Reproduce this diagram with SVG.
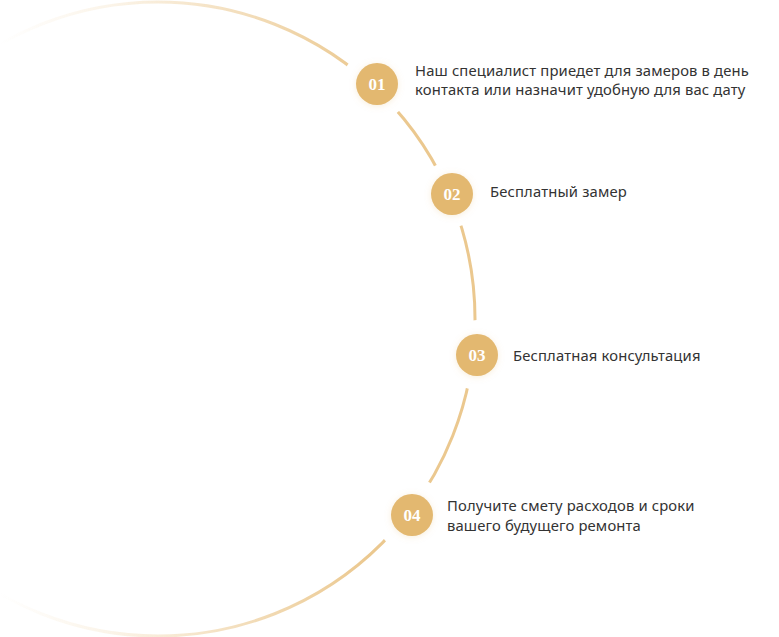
<svg xmlns="http://www.w3.org/2000/svg" width="779" height="637" viewBox="0 0 779 637">
<style>
.lbl{font-family:"Noto Sans","Open Sans",sans-serif;font-size:14.8px;letter-spacing:0.15px;fill:#333333}
.num{font-family:"Liberation Serif","DejaVu Serif",serif;font-size:17px;font-weight:bold;fill:#ffffff;text-anchor:middle}
.dot{fill:#E3B870}
</style>
<defs>
<linearGradient id="arcg" gradientUnits="userSpaceOnUse" x1="0" y1="0" x2="370" y2="0">
<stop offset="0" stop-color="#EBC88F" stop-opacity="0"/>
<stop offset="0.3" stop-color="#EBC88F" stop-opacity="0.2"/>
<stop offset="0.65" stop-color="#EBC88F" stop-opacity="0.6"/>
<stop offset="1" stop-color="#EBC88F" stop-opacity="1"/>
</linearGradient>
<mask id="gaps">
<rect x="0" y="0" width="779" height="637" fill="#fff"/>
<circle cx="377" cy="84" r="35" fill="#000"/>
<circle cx="452" cy="194" r="33" fill="#000"/>
<circle cx="477" cy="355" r="35" fill="#000"/>
<circle cx="412" cy="515" r="37" fill="#000"/>
</mask>
<filter id="sh" x="-50%" y="-50%" width="200%" height="200%">
<feDropShadow dx="0" dy="1" stdDeviation="3" flood-color="#E3B870" flood-opacity="0.25"/>
</filter>
</defs>
<g id="connectors">
<circle cx="158" cy="319" r="317" fill="none" stroke="url(#arcg)" stroke-width="3" mask="url(#gaps)"/>
</g>
<g id="node1">
<circle class="dot" cx="377" cy="84" r="21" filter="url(#sh)"/>
<text class="num" x="377" y="90">01</text>
<text class="lbl" x="415" y="76">Наш специалист приедет для замеров в день</text>
<text class="lbl" x="415" y="95">контакта или назначит удобную для вас дату</text>
</g>
<g id="node2">
<circle class="dot" cx="452" cy="194" r="21" filter="url(#sh)"/>
<text class="num" x="452" y="200">02</text>
<text class="lbl" x="490" y="197">Бесплатный замер</text>
</g>
<g id="node3">
<circle class="dot" cx="477" cy="355" r="21" filter="url(#sh)"/>
<text class="num" x="477" y="361">03</text>
<text class="lbl" x="513" y="361">Бесплатная консультация</text>
</g>
<g id="node4">
<circle class="dot" cx="412" cy="515" r="21" filter="url(#sh)"/>
<text class="num" x="412" y="521">04</text>
<text class="lbl" x="447" y="511">Получите смету расходов и сроки</text>
<text class="lbl" x="447" y="531">вашего будущего ремонта</text>
</g>
</svg>
